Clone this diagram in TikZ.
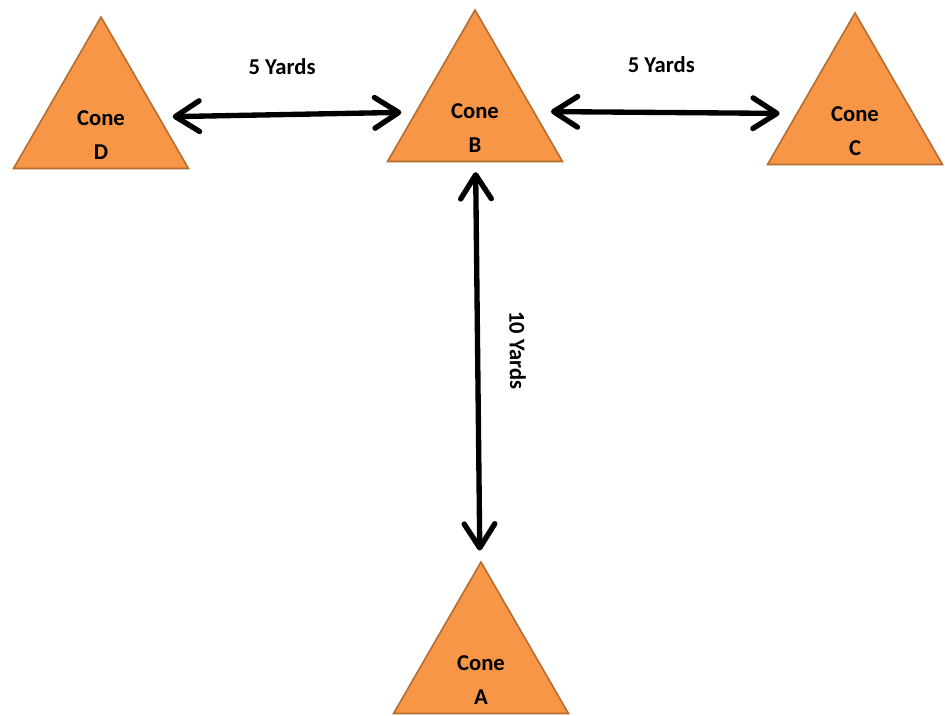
\documentclass[tikz,border=0pt]{standalone}
\usepackage{fontspec}
\setmainfont{Carlito}
\usetikzlibrary{shapes.geometric,arrows.meta}
\definecolor{conefill}{HTML}{F79646}
\definecolor{coneedge}{HTML}{B66D31}
\begin{document}
\begin{tikzpicture}[x=0.75pt,y=-0.75pt,inner sep=0pt,outer sep=0pt,
conetri/.style={regular polygon,regular polygon sides=3,minimum size=151.5pt,draw=coneedge,fill=conefill,line width=1.2pt},
conetext/.style={align=center,yshift=-12.75pt,font=\fontsize{17}{25.5}\selectfont\bfseries},
dist/.style={font=\fontsize{17}{20}\selectfont\bfseries},
yardline/.style={{Straight Barb[length=18pt,width=23pt,round]}-{Straight Barb[length=18pt,width=23pt,round]},line width=4pt}]
\useasboundingbox (0,0) rectangle (945,716);
\draw (101,118) node[conetri,label={[conetext]center:Cone\\D}] (D) {};
\draw (475,111) node[conetri,label={[conetext]center:Cone\\B}] (B) {};
\draw (855,114) node[conetri,label={[conetext]center:Cone\\C}] (C) {};
\draw (481,663) node[conetri,label={[conetext]center:Cone\\A}] (A) {};
\draw[yardline,shorten <=10.5pt,shorten >=11pt] (D) -- (B) node[dist,midway,above=30pt,xshift=-4pt] (DB) {5 Yards};
\draw[yardline,shorten <=13pt,shorten >=13pt] (B) -- (C) node[dist,midway,above=30pt,xshift=-3pt] (BC) {5 Yards};
\draw[yardline,shorten <=8pt,shorten >=10pt] (B) -- (A) node[dist,pos=0.47,sloped,above=24pt] (BA) {10 Yards};
\end{tikzpicture}
\end{document}
